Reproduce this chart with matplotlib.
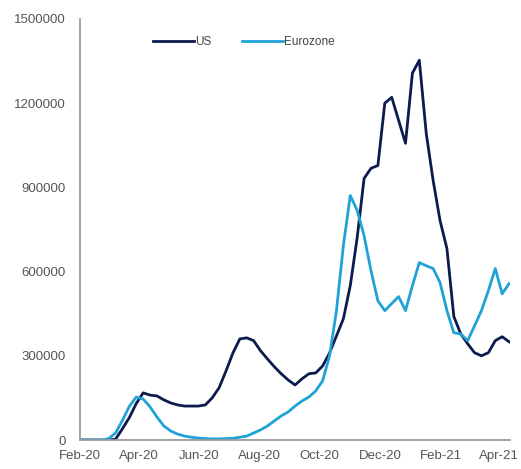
import matplotlib
matplotlib.use("Agg")
import matplotlib.pyplot as plt
import matplotlib.dates as mdates
import pandas as pd

# Weekly new cases
dates = pd.date_range("2020-02-02", periods=63, freq="7D")

us = [0, 0, 0, 0, 0, 3000, 40000, 80000, 130000, 168000,
      160000, 157000, 143000, 132000, 125000, 121000, 121000, 121000, 125000, 150000,
      186000, 246000, 310000, 360000, 364000, 354000, 318000, 289000, 261000, 236000,
      214000, 196000, 218000, 236000, 239000, 264000, 310000, 371000, 432000, 550000,
      721000, 932000, 968000, 978000, 1200000, 1221000, 1139000, 1057000, 1307000, 1353000,
      1093000, 925000, 782000, 682000, 440000, 378000, 343000, 311000, 300000, 311000,
      354000, 368000, 350000]

eurozone = [0, 0, 0, 0, 5000, 25000, 70000, 120000, 153000, 146000,
            118000, 82000, 50000, 32000, 21000, 14000, 10000, 7000, 5000, 4000,
            4000, 5000, 6000, 10000, 14000, 25000, 36000, 50000, 68000, 86000,
            100000, 121000, 139000, 153000, 175000, 211000, 300000, 461000, 693000, 871000,
            818000, 728000, 603000, 496000, 461000, 486000, 511000, 461000, 550000, 632000,
            621000, 611000, 561000, 461000, 382000, 378000, 354000, 407000, 461000, 532000,
            611000, 521000, 557000]

y_ticks = [0, 300000, 600000, 900000, 1200000, 1500000]

navy = "#0d1a4d"
cyan = "#1fa3d6"
grey_text = "#555555"
spine_col = "#9a9a9a"
font = ["Liberation Sans", "DejaVu Sans"]

fig = plt.figure(figsize=(5.21, 4.69), dpi=100)
ax = fig.add_axes([0.1536, 0.0618, 0.8254, 0.8977])

ax.plot(dates, us, color=navy, lw=2.0, label="US", solid_joinstyle="round")
ax.plot(dates, eurozone, color=cyan, lw=2.0, label="Eurozone", solid_joinstyle="round")

ax.set_ylim(0, 1500000)
ax.set_xlim(pd.Timestamp("2020-02-01"), pd.Timestamp("2021-04-12"))
ax.set_yticks(y_ticks)
ax.set_yticklabels([str(v) for v in y_ticks])

ax.xaxis.set_major_locator(mdates.MonthLocator(bymonth=[2, 4, 6, 8, 10, 12]))
ax.xaxis.set_major_formatter(mdates.DateFormatter("%b-%y"))

for s in ["top", "right"]:
    ax.spines[s].set_visible(False)
for s in ["left", "bottom"]:
    ax.spines[s].set_color(spine_col)
    ax.spines[s].set_linewidth(1.3)

ax.tick_params(axis="both", length=0, colors=grey_text, labelsize=9.5)
ax.tick_params(axis="y", pad=10.5)
ax.tick_params(axis="x", pad=7.5)
for lbl in ax.get_xticklabels() + ax.get_yticklabels():
    lbl.set_family(font)

leg = ax.legend(loc="upper center", bbox_to_anchor=(0.38, 0.985), ncol=2, frameon=False,
                handlelength=3.5, handletextpad=0.05, columnspacing=2.6,
                prop={"family": font, "size": 8.5})
for t in leg.get_texts():
    t.set_color("#444444")

fig.savefig("out.png", dpi=100)
